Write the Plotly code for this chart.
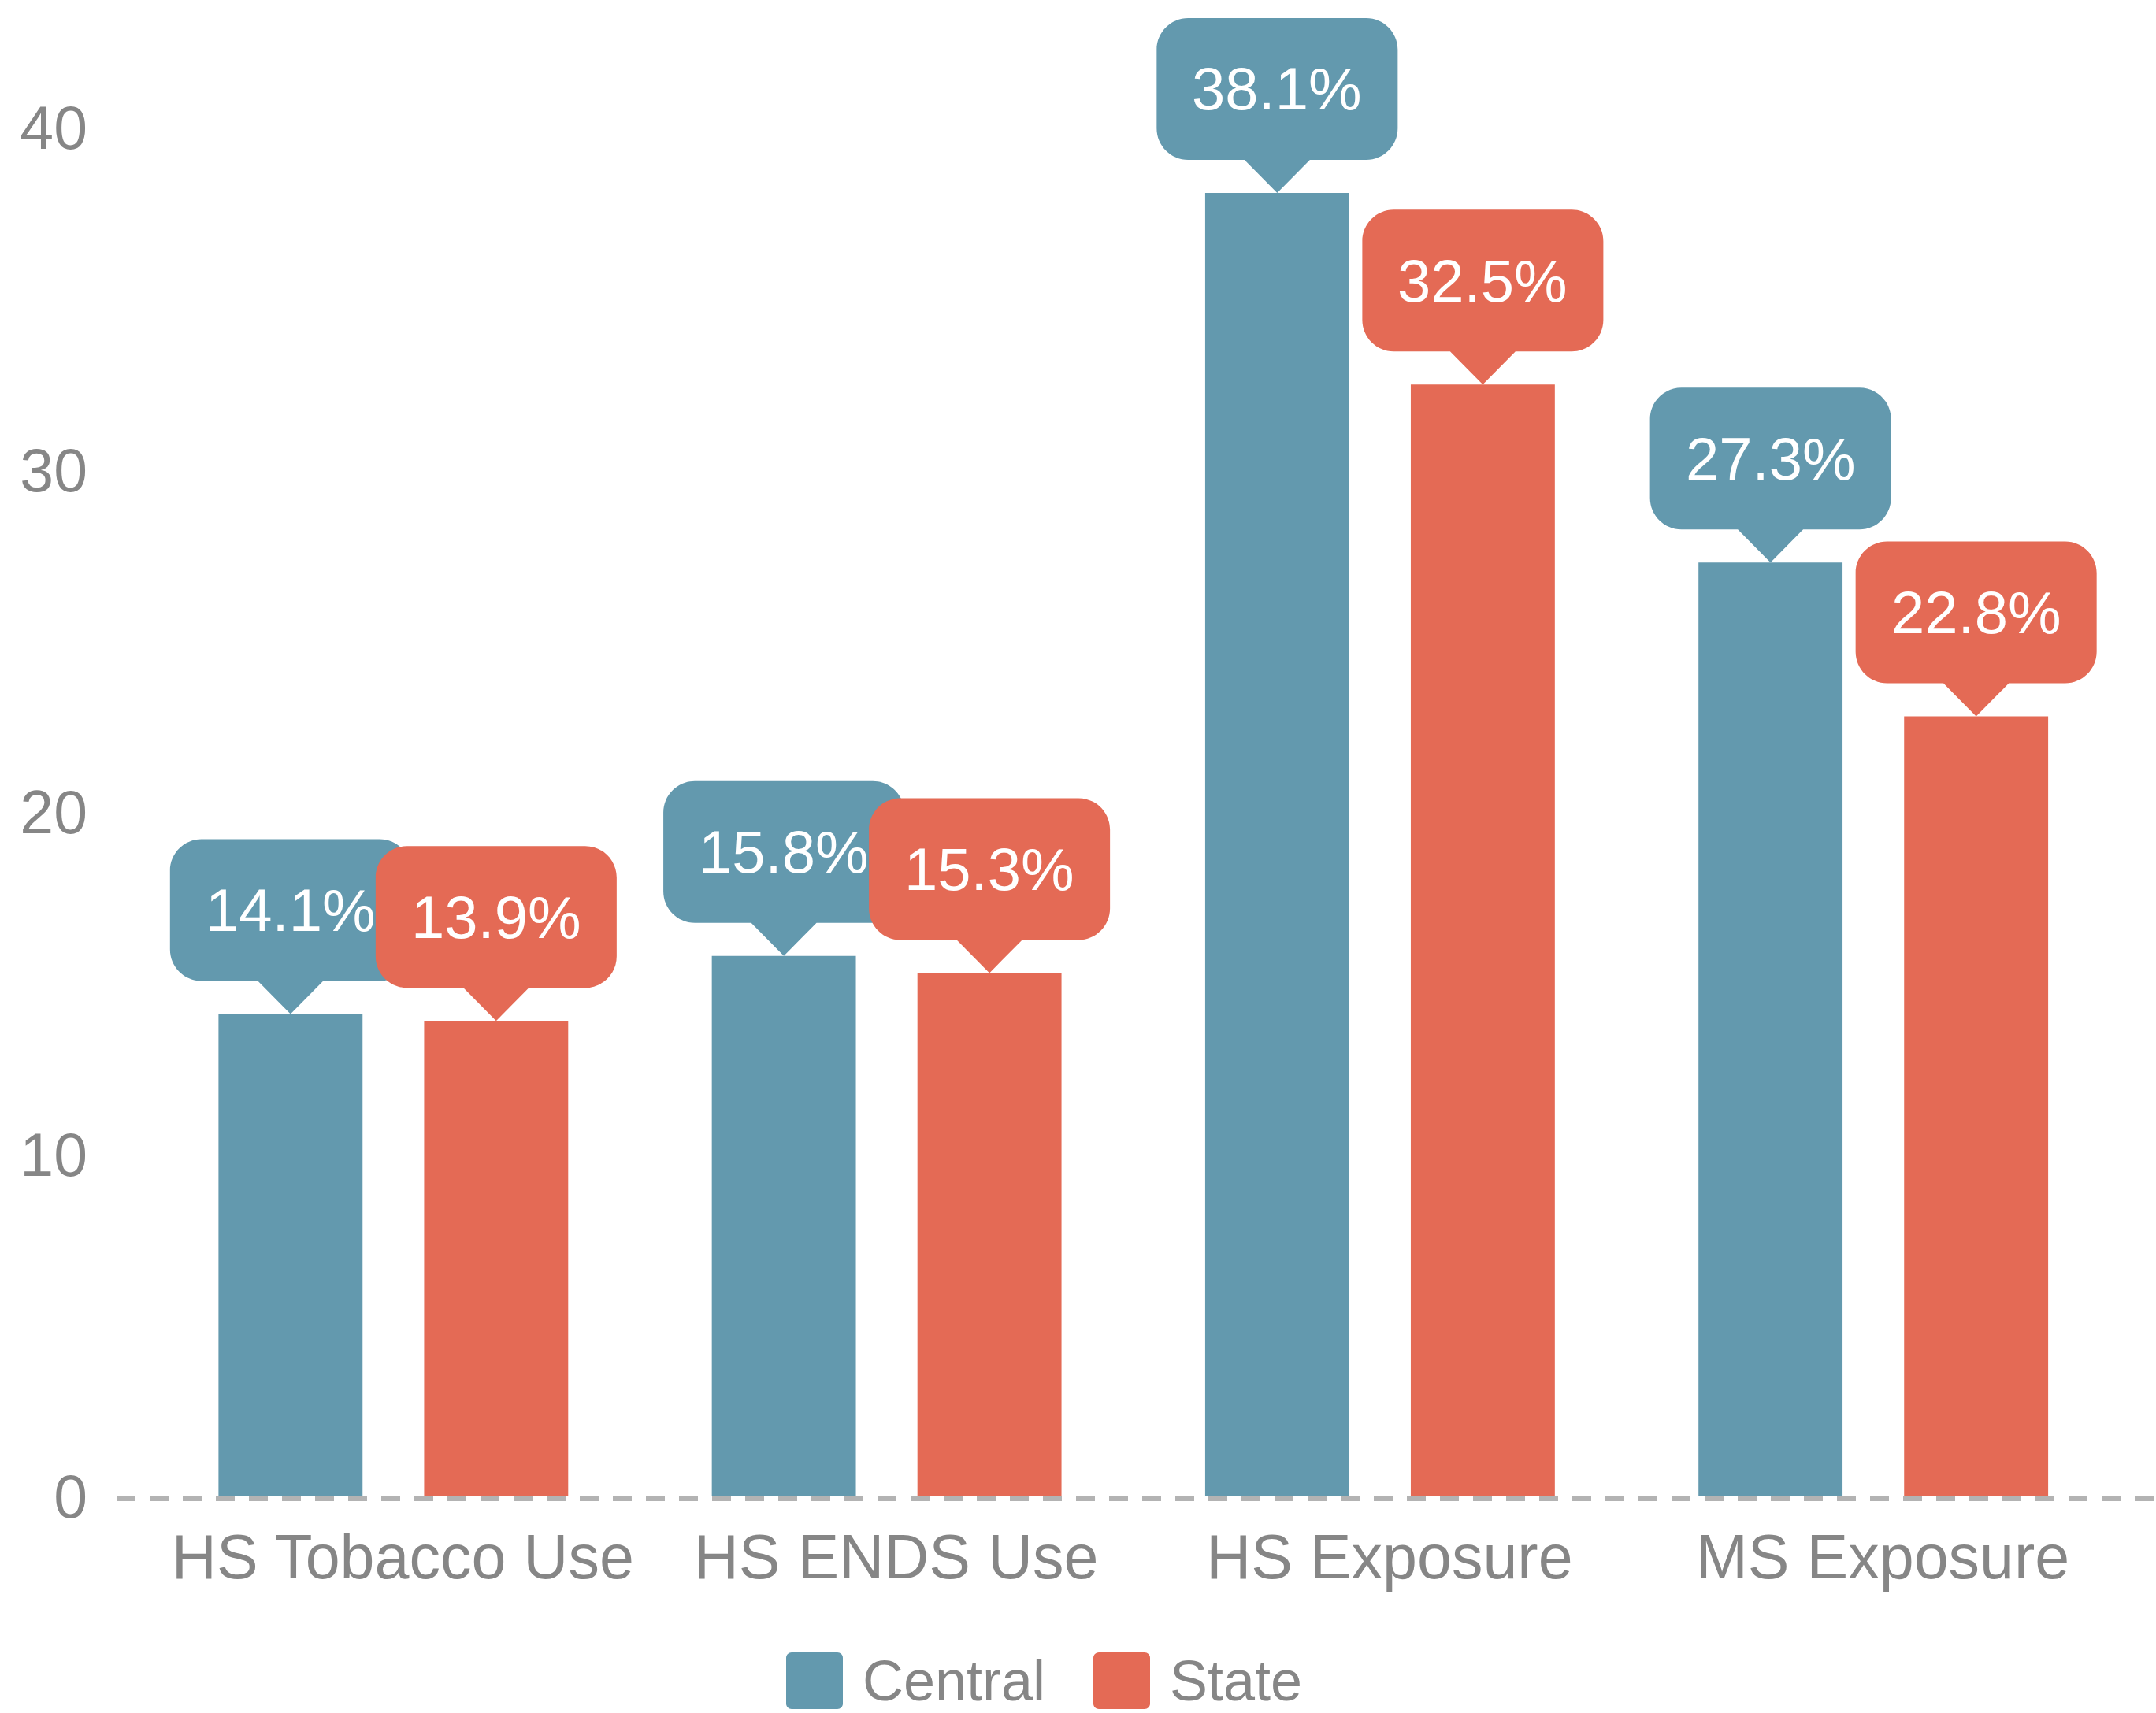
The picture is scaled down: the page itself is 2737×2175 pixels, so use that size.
import plotly.graph_objects as go

categories = ["HS Tobacco Use", "HS ENDS Use", "HS Exposure", "MS Exposure"]
series_names = ["Central", "State"]
central_values = [14.1, 15.8, 38.1, 27.3]
state_values = [13.9, 15.3, 32.5, 22.8]
y_tick_values = [0, 10, 20, 30, 40]

colors = {"Central": "#6399AE", "State": "#E46A55"}
grey = "#868686"
FONT = "Liberation Sans"

BAR_W = 0.292
OFFS = 0.2084
series = [("Central", central_values, -OFFS), ("State", state_values, OFFS)]

fig = go.Figure()
for name, vals, off in series:
    fig.add_trace(go.Bar(
        x=categories, y=vals, name=name,
        marker=dict(color=colors[name], line=dict(width=0)),
        width=BAR_W, offset=off - BAR_W / 2,
        hoverinfo="skip", showlegend=False,
    ))


def callout_path(hw=153, h=180, ph=42, pw=41.5, r=40):
    k = 0.5523 * r
    b = ph
    t = ph + h
    return (f"M 0 0 L {-pw} {b} L {-hw + r} {b} "
            f"C {-hw + r - k} {b} {-hw} {b + r - k} {-hw} {b + r} "
            f"L {-hw} {t - r} C {-hw} {t - r + k} {-hw + r - k} {t} {-hw + r} {t} "
            f"L {hw - r} {t} C {hw - r + k} {t} {hw} {t - r + k} {hw} {t - r} "
            f"L {hw} {b + r} C {hw} {b + r - k} {hw - r + k} {b} {hw - r} {b} "
            f"L {pw} {b} Z")


def rrect_path(hw=36, hh=36, r=7):
    k = 0.5523 * r
    return (f"M {-hw + r} {-hh} L {hw - r} {-hh} C {hw - r + k} {-hh} {hw} {-hh + r - k} {hw} {-hh + r} "
            f"L {hw} {hh - r} C {hw} {hh - r + k} {hw - r + k} {hh} {hw - r} {hh} "
            f"L {-hw + r} {hh} C {-hw + r - k} {hh} {-hw} {hh - r + k} {-hw} {hh - r} "
            f"L {-hw} {-hh + r} C {-hw} {-hh + r - k} {-hw + r - k} {-hh} {-hw + r} {-hh} Z")


shapes = []
annotations = []

# dashed baseline just below zero
shapes.append(dict(type="line", xref="paper", x0=0, x1=1, yref="y", ysizemode="pixel",
                   yanchor=0, y0=-3, y1=-3, layer="below",
                   line=dict(color="#B3B3B3", width=6, dash="24px,18px")))

PATH = callout_path()
for name, vals, off in series:
    for i, v in enumerate(vals):
        xc = i + off
        shapes.append(dict(type="path", xref="x", yref="y", xsizemode="pixel", ysizemode="pixel",
                           xanchor=xc, yanchor=v, path=PATH,
                           fillcolor=colors[name], line=dict(width=0), layer="above"))
        annotations.append(dict(x=xc, y=v, xref="x", yref="y", text=f"{v:.1f}%", showarrow=False,
                                yshift=132, xanchor="center", yanchor="middle",
                                font=dict(family=FONT, size=76, color="white")))

# custom legend (plot area: x 148..2737 px, y 0..1911 px)
LEG_Y = (1911 - 2134) / 1911
leg_items = [("Central", (1034 - 148) / 2589, (1093 - 148) / 2589),
             ("State", (1424 - 148) / 2589, (1483 - 148) / 2589)]
for name, xs, xt in leg_items:
    shapes.append(dict(type="path", xref="paper", yref="paper", xsizemode="pixel", ysizemode="pixel",
                       xanchor=xs, yanchor=LEG_Y, path=rrect_path(),
                       fillcolor=colors[name], line=dict(width=0)))
    annotations.append(dict(x=xt, y=LEG_Y, xref="paper", yref="paper", text=name, showarrow=False,
                            xanchor="left", yanchor="middle",
                            font=dict(family=FONT, size=72, color=grey)))

fig.update_layout(
    width=2737, height=2175,
    margin=dict(l=148, r=0, t=0, b=264),
    paper_bgcolor="white", plot_bgcolor="white",
    barmode="group",
    font=dict(family=FONT, color=grey),
    shapes=shapes, annotations=annotations,
    showlegend=False,
    xaxis=dict(range=[-0.561, 3.573], showgrid=False, showline=False, zeroline=False,
               ticks="", tickfont=dict(family=FONT, size=79, color=grey), ticklabelstandoff=13,
               ticklabelshift=12),
    yaxis=dict(range=[-0.253, 43.74], tickvals=y_tick_values, showgrid=False, showline=False,
               zeroline=False, ticks="", tickfont=dict(family=FONT, size=77, color=grey),
               ticklabelstandoff=36),
)

fig.write_html("out.html", config={"displayModeBar": False},
               post_script="document.body.style.margin='0';document.body.style.overflow='hidden';")
